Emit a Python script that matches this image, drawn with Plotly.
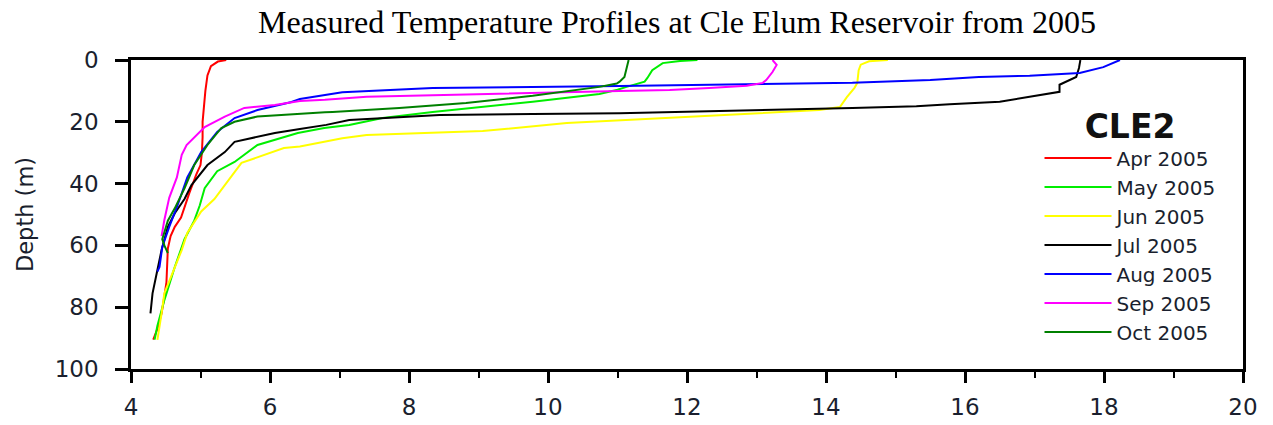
import plotly.graph_objects as go

# Monthly temperature profiles at station CLE2 (temperature in deg C, depth in m)
months = ["Apr 2005", "May 2005", "Jun 2005", "Jul 2005", "Aug 2005", "Sep 2005", "Oct 2005"]
colors = ["#ff0000", "#00ee00", "#ffff00", "#000000", "#0000ff", "#ff00ff", "#008000"]

apr_temp = [5.37, 5.25, 5.15, 5.10, 5.07, 5.05, 5.03, 5.03, 5.02, 5.00, 4.94, 4.84, 4.77, 4.72,
            4.63, 4.57, 4.53, 4.52, 4.51, 4.47, 4.44, 4.38, 4.32]
apr_depth = [0, 0.5, 2, 5, 10, 15, 20, 25, 30, 34, 37, 43, 48, 51, 54, 57, 61, 65, 72, 78, 82, 87, 90.5]

may_temp = [12.15, 11.9, 11.65, 11.5, 11.43, 11.39, 11.13, 11.0, 10.74, 9.78, 8.34, 7.62, 7.14,
            6.78, 6.4, 5.82, 5.49, 5.24, 5.06, 4.99, 4.91, 4.77, 4.63, 4.48, 4.38, 4.34]
may_depth = [0, 0.3, 1, 3.3, 5.8, 7, 8.7, 9.6, 11, 13.5, 16.8, 18.8, 21, 22, 23.6, 27.5, 33, 36,
             41.5, 47, 52, 58, 67, 77.7, 86, 90.5]

jun_temp = [14.89, 14.62, 14.5, 14.47, 14.45, 14.41, 14.3, 14.2, 13.9, 12.47, 11.03, 10.27, 9.06,
            7.39, 7.04, 6.78, 6.43, 6.2, 5.59, 5.35, 5.2, 5.01, 4.81, 4.73, 4.63, 4.48, 4.44, 4.38]
jun_depth = [0, 0.4, 1.5, 3.3, 7.4, 9, 12, 15.2, 16.2, 17.8, 19.4, 20.4, 23, 24.3, 25.3, 26.5, 28,
             28.5, 33.3, 40.5, 45, 49, 56, 61.5, 67, 75.5, 82, 90.6]

jul_temp = [17.66, 17.64, 17.6, 17.46, 17.36, 17.36, 17.26, 16.5, 15.78, 15.3, 14.38, 12.47, 11.03,
            9.78, 8.44, 7.14, 6.81, 6.43, 6.07, 5.49, 5.35, 5.1, 4.87, 4.77, 4.63, 4.53, 4.44, 4.37,
            4.31, 4.28]
jul_depth = [0, 2.6, 5.5, 7, 8, 10.3, 10.7, 13.5, 14.3, 15, 15.5, 16.5, 17.2, 17.5, 17.8, 19.4, 21,
             22.3, 23.6, 26.5, 29.8, 34, 40.5, 45, 49.6, 54, 61.5, 69, 75.5, 82]

aug_temp = [18.23, 17.99, 17.65, 16.93, 16.2, 15.5, 14.38, 12.47, 11.03, 9.78, 8.34, 7.04, 6.81,
            6.43, 6.31, 5.82, 5.49, 5.24, 5.01, 4.81, 4.67, 4.55, 4.45, 4.41, 4.38]
aug_depth = [0, 2.3, 4.2, 5.1, 5.5, 6.5, 7.4, 8.1, 8.4, 8.7, 9.1, 10.4, 11.3, 12.6, 13.6, 16.2, 18.8,
             23.3, 29.8, 38, 47, 54, 60.5, 67, 68.5]

sep_temp = [13.23, 13.29, 13.23, 13.14, 13.09, 12.86, 12.32, 11.75, 11.03, 9.78, 8.34, 7.39, 6.79,
            6.43, 6.07, 5.63, 5.35, 5.06, 4.8, 4.73, 4.66, 4.55, 4.48, 4.44]
sep_depth = [0, 1.6, 3.9, 6.5, 7.4, 8.3, 9.1, 9.7, 10, 10.7, 11.3, 11.9, 12.9, 13.3, 14.6, 15.5, 18.3,
             21.7, 27.5, 30.7, 38, 44.6, 51.8, 57]

oct_temp = [11.16, 11.13, 11.1, 11.03, 10.99, 10.74, 9.78, 8.82, 7.86, 6.9, 6.79, 5.82, 5.49, 5.3,
            5.1, 4.91, 4.77, 4.63, 4.53, 4.45, 4.48, 4.53]
oct_depth = [0, 2.6, 5.5, 7, 7.6, 8.7, 11.6, 13.9, 15.5, 16.8, 16.9, 18.3, 20, 22, 27.5, 34, 41.5,
             48, 52, 58, 60, 62.5]

profiles = [
    (apr_temp, apr_depth), (may_temp, may_depth), (jun_temp, jun_depth), (jul_temp, jul_depth),
    (aug_temp, aug_depth), (sep_temp, sep_depth), (oct_temp, oct_depth),
]

x_ticks = [4, 6, 8, 10, 12, 14, 16, 18, 20]
y_ticks = [0, 20, 40, 60, 80, 100]

fig = go.Figure()
for name, color, (temp, depth) in zip(months, colors, profiles):
    fig.add_trace(go.Scatter(
        x=temp, y=depth, mode="lines", name=name,
        line=dict(color=color, width=2, shape="linear"),
    ))

SANS = "DejaVu Sans, Verdana, sans-serif"
TEXT = "#1a1f2e"

fig.update_layout(
    width=1273, height=425,
    margin=dict(l=131, r=30, t=60, b=56, autoexpand=False),
    paper_bgcolor="white", plot_bgcolor="white",
    title=dict(
        text="Measured Temperature Profiles at Cle Elum Reservoir from 2005",
        font=dict(family="Liberation Serif, Times New Roman, serif", size=32, color="black"),
        xref="container", x=677 / 1273, xanchor="center",
        yref="container", y=1 - 22 / 425, yanchor="middle",
    ),
    showlegend=True,
    legend=dict(
        title=dict(text="<b>CLE2</b>", side="top center",
                   font=dict(family=SANS, size=33, color="#111")),
        font=dict(family=SANS, size=20, color=TEXT),
        itemwidth=67,
        x=0.817, xanchor="left", y=0.885, yanchor="top",
        bgcolor="rgba(0,0,0,0)", borderwidth=0,
        tracegroupgap=0,
    ),
)

fig.update_xaxes(
    range=[4, 20], tickvals=x_ticks, ticktext=[str(v) for v in x_ticks],
    showgrid=False, zeroline=False,
    showline=True, linecolor="black", linewidth=2.5, mirror=True,
    ticks="outside", ticklen=11, tickwidth=2.5, tickcolor="black",
    minor=dict(dtick=1, tick0=4, ticks="outside", ticklen=6, tickwidth=1.5, tickcolor="black"),
    tickfont=dict(family=SANS, size=23, color=TEXT), ticklabelstandoff=5,
)
fig.update_yaxes(
    range=[100, 0], tickvals=y_ticks, ticktext=[str(v) for v in y_ticks],
    showgrid=False, zeroline=False,
    showline=True, linecolor="black", linewidth=2.5, mirror=True,
    ticks="outside", ticklen=13, tickwidth=2.5, tickcolor="black",
    tickfont=dict(family=SANS, size=23, color=TEXT), ticklabelstandoff=12,
    title=dict(text="Depth (m)", standoff=15,
               font=dict(family=SANS, size=22.5, color=TEXT)),
)

fig.write_html("out.html")
